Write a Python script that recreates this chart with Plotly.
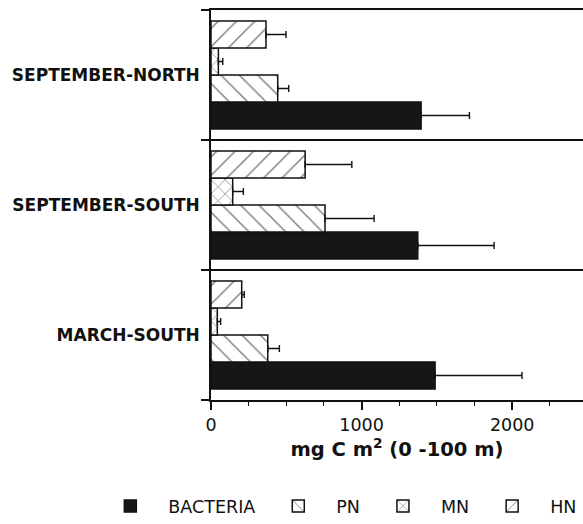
import plotly.graph_objects as go

categories = ["SEPTEMBER-NORTH", "SEPTEMBER-SOUTH", "MARCH-SOUTH"]
series = ["BACTERIA", "PN", "MN", "HN"]
bacteria = [1395, 1373, 1488]
bacteria_err = [321, 507, 577]
pn = [443, 757, 377]
pn_err = [73, 326, 77]
mn = [49, 144, 42]
mn_err = [29, 71, 22]
hn = [365, 625, 204]
hn_err = [133, 310, 17]
x_ticks = [0, 1000, 2000]

values = [bacteria, pn, mn, hn]
errors = [bacteria_err, pn_err, mn_err, hn_err]
patterns = ["", "\\", "x", "/"]
pattern_sizes = [10, 13, 10, 13]
pattern_solidity = [0, 0.11, 0.14, 0.11]

FONT = "DejaVu Sans, Liberation Sans, Arial, sans-serif"
INK = "#111111"

fig = go.Figure()
for name, vals, errs, pat, psz, sol in zip(series, values, errors, patterns,
                                         pattern_sizes, pattern_solidity):
    if pat == "":
        marker = dict(color="#161616", line=dict(color=INK, width=1.5))
    else:
        marker = dict(color="white", line=dict(color=INK, width=1.5),
                      pattern=dict(shape=pat, fgcolor="black", bgcolor="white",
                                   size=psz, solidity=sol))
    fig.add_trace(go.Bar(
        y=categories, x=vals, name=name, orientation="h", marker=marker,
        error_x=dict(type="data", symmetric=False, array=errs,
                     arrayminus=[0] * len(errs), color=INK,
                     thickness=1.4, width=3.5),
    ))

fig.update_layout(
    width=583, height=524,
    margin=dict(l=211, r=0, t=10, b=123),
    plot_bgcolor="white", paper_bgcolor="white",
    barmode="group", bargap=0.17, bargroupgap=0,
    font=dict(family=FONT, color=INK),
    showlegend=True,
    legend=dict(orientation="h", x=-0.319, xanchor="left", y=-0.271, yanchor="middle",
                traceorder="normal", font=dict(size=17.5), itemwidth=66,
                bgcolor="rgba(0,0,0,0)"),
    xaxis=dict(
        range=[0, 2470], tickvals=x_ticks, ticktext=[str(v) for v in x_ticks],
        ticks="outside", ticklen=8, tickwidth=1.5, tickcolor=INK,
        showline=True, linecolor=INK, linewidth=1.5, mirror=True,
        showgrid=False, zeroline=False,
        tickfont=dict(size=17.5),
        minor=dict(dtick=250, ticks="outside", ticklen=4, tickwidth=1, tickcolor=INK, showgrid=False),
        title=dict(text="mg C m<sup>2</sup> (0 -100 m)", font=dict(size=19.5, weight="bold"), standoff=5),
    ),
    yaxis=dict(
        categoryorder="array", categoryarray=categories[::-1],
        tickson="boundaries", ticks="outside", ticklen=8, tickwidth=1.5, tickcolor=INK,
        showline=True, linecolor=INK, linewidth=1.5,
        showgrid=True, gridcolor=INK, gridwidth=1.5,
        zeroline=False, ticklabelstandoff=6,
        tickfont=dict(size=17, weight="bold"),
    ),
)

fig.write_html("out.html", config={"displayModeBar": False},
               post_script="document.body.style.margin='0';")
